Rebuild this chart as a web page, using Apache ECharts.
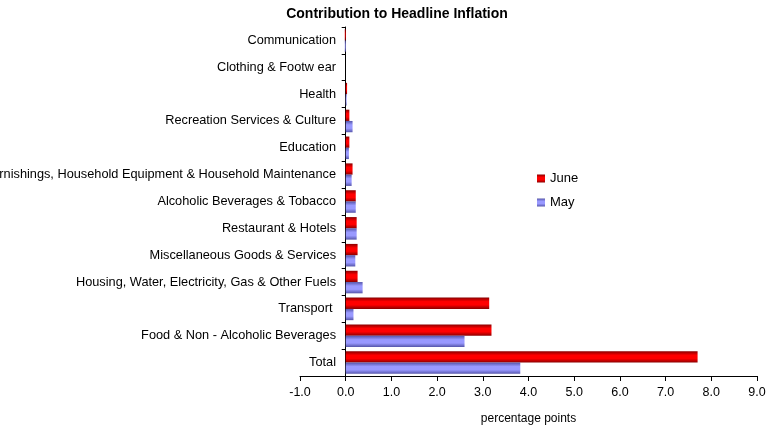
<!DOCTYPE html>
<html>
<head>
<meta charset="utf-8">
<script src="https://cdn.jsdelivr.net/npm/echarts@6/dist/echarts.min.js"></script>
<style>
  html, body { margin: 0; padding: 0; background: #fff; }
  #chart { width: 766px; height: 429px; }
</style>
</head>
<body>
<div id="chart"></div>
<script>
// Categories listed bottom to top
const categories = [
  'Total',
  'Food & Non - Alcoholic Beverages',
  'Transport ',
  'Housing, Water, Electricity, Gas & Other Fuels',
  'Miscellaneous Goods & Services',
  'Restaurant & Hotels',
  'Alcoholic Beverages & Tobacco',
  'Furnishings, Household Equipment & Household Maintenance',
  'Education',
  'Recreation Services & Culture',
  'Health',
  'Clothing & Footw ear',
  'Communication'
];
const juneValues = [7.70, 3.19, 3.14, 0.26, 0.26, 0.24, 0.22, 0.15, 0.08, 0.08, 0.03, 0.00, -0.02];
const mayValues  = [3.82, 2.60, 0.17, 0.37, 0.21, 0.24, 0.22, 0.13, 0.07, 0.15, 0.02, 0.00, -0.02];
const seriesNames = ['June', 'May'];

const FONT = 'Liberation Sans, Arial, sans-serif';

function shade(edge, mid) {
  return new echarts.graphic.LinearGradient(0, 0, 0, 1, [
    { offset: 0, color: edge },
    { offset: 0.35, color: mid },
    { offset: 0.65, color: mid },
    { offset: 1, color: edge }
  ]);
}

const chart = echarts.init(document.getElementById('chart'), null, { renderer: 'canvas' });
chart.setOption({
  backgroundColor: '#ffffff',
  animation: false,
  title: {
    text: 'Contribution to Headline Inflation',
    left: 392, top: 2, textAlign: 'center',
    textStyle: { fontFamily: FONT, fontSize: 14, fontWeight: 'bold', color: '#000' }
  },
  legend: {
    data: seriesNames,
    orient: 'vertical',
    left: 532, top: 167,
    itemWidth: 8, itemHeight: 8, itemGap: 11,
    icon: 'rect',
    textStyle: { fontFamily: FONT, fontSize: 13, color: '#000' }
  },
  grid: { left: 300, right: 9, top: 27, bottom: 53, containLabel: false, outerBoundsMode: 'none' },
  xAxis: {
    type: 'value', min: -1, max: 9, interval: 1,
    name: 'percentage points', nameLocation: 'middle', nameGap: 37,
    nameTextStyle: { fontFamily: FONT, fontSize: 12, color: '#000' },
    axisLine: { show: true, lineStyle: { color: '#000', width: 1 } },
    axisTick: { show: true, length: 5, lineStyle: { color: '#000' } },
    axisLabel: { fontFamily: FONT, fontSize: 12.5, color: '#000', margin: 10,
      formatter: v => v.toFixed(1) },
    splitLine: { show: false }
  },
  yAxis: {
    type: 'category', data: categories,
    axisLine: { show: true, onZero: true, lineStyle: { color: '#000', width: 1 } },
    axisTick: { show: true, length: 4, lineStyle: { color: '#000' } },
    // labels sit just left of the zero line, not at the grid edge
    axisLabel: { fontFamily: FONT, fontSize: 12.75, color: '#000', margin: -36 },
    splitLine: { show: false }
  },
  series: [
    {
      name: 'June', type: 'bar', data: juneValues,
      barGap: '0%', barCategoryGap: '16%',
      itemStyle: { color: shade('#8a0000', '#ff0000') }
    },
    {
      name: 'May', type: 'bar', data: mayValues,
      barGap: '0%', barCategoryGap: '16%',
      itemStyle: { color: shade('#5555aa', '#9999ff') }
    }
  ]
});
</script>
</body>
</html>
